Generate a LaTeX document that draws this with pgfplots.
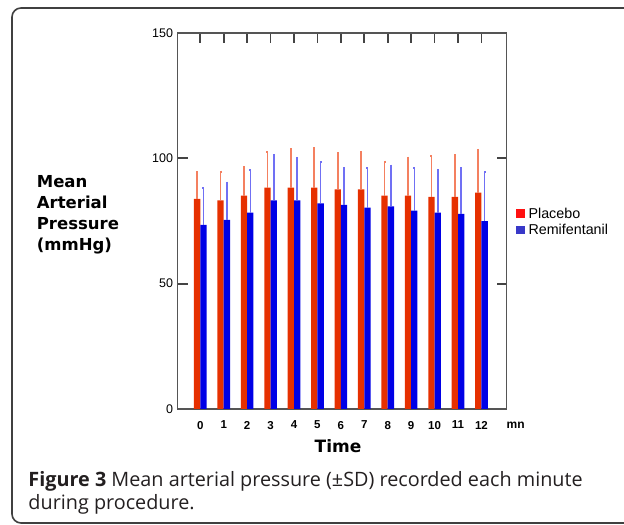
\documentclass[border=0pt]{standalone}
\usepackage{fontspec}
\setmainfont{Liberation Sans}
\newfontfamily\capfont{Open Sans}
\newfontfamily\vfont{DejaVu Sans}
\usepackage{pgfplots}
\pgfplotsset{compat=1.18}
\definecolor{barred}{HTML}{E63000}
\definecolor{barblue}{HTML}{0000E6}
\definecolor{errred}{HTML}{F48060}
\definecolor{errblue}{HTML}{7070F4}
\definecolor{legred}{HTML}{FF1010}
\definecolor{legblue}{HTML}{3838C8}
\definecolor{axisgray}{HTML}{555555}
\definecolor{captext}{HTML}{231F20}

% minute, mean, +SD
\pgfplotstableread{
t   m     sd
0   83.8  10.7
1   83.2  11.5
2   85.1  11.4
3   88.3  14.2
4   88.3  15.4
5   88.3  15.7
6   87.6  14.4
7   87.6  14.9
8   85.1  13.6
9   85.1  15.2
10  84.6  16.2
11  84.6  16.6
12  86.3  17.1
}\placebo
\pgfplotstableread{
t   m     sd
0   73.5  14.5
1   75.4  14.9
2   78.3  17.0
3   83.2  18.2
4   83.2  17.0
5   82.0  16.4
6   81.4  14.6
7   80.3  15.7
8   80.8  16.3
9   79.1  16.9
10  78.3  17.0
11  77.8  18.2
12  74.9  19.5
}\remi

\begin{document}
\begin{tikzpicture}[x=1bp,y=1bp]
\useasboundingbox (0,0) rectangle (624,525);
\begin{scope}
\clip (0,0) rectangle (624,525);
\draw[line width=1.6bp, color=black!75, rounded corners=9bp] (12,2) rectangle (700,517);
\end{scope}
\begin{axis}[
  at={(177.5bp,116bp)}, anchor=south west,
  width=329bp, height=376bp, scale only axis,
  xmin=-0.973, xmax=13.07,
  ymin=0, ymax=150,
  ytick={0,50,100,150},
  xtick=data,
  xtick pos=upper, xticklabel pos=lower,
  ytick pos=both, yticklabel pos=left,
  tick align=inside,
  major tick length=10bp,
  tick style={axisgray!80!black, line width=1.8bp},
  xtick style={yshift=-10bp},
  axis line style={axisgray, line width=1.6bp},
  /pgf/number format/assume math mode=true,
  yticklabel style={font=\fontsize{12.5bp}{14bp}\selectfont, xshift=-1bp},
  xticklabel style={font=\bfseries\fontsize{11.5bp}{13bp}\selectfont, yshift=1.5bp},
  ybar, bar width=0.27,
  xlabel={Time},
  every axis x label/.style={at={(rel axis cs:0.488,0)}, anchor=north, yshift=-30bp, inner sep=0pt,
    font=\vfont\bfseries\fontsize{17bp}{20bp}\selectfont},
  ylabel={Mean\\Arterial\\Pressure\\(mmHg)},
  every axis y label/.style={at={(rel axis cs:-0.428,0.622)}, anchor=north west, inner sep=0pt, align=left,
    font=\vfont\bfseries\fontsize{16.5bp}{21bp}\selectfont},
  legend image code/.code={\fill[#1] (0bp,-4.2bp) rectangle (8.3bp,4.2bp);},
  legend style={at={(rel axis cs:1.029,0.54)}, anchor=north west, draw=none, fill=none,
    inner sep=0pt, row sep=1.5bp, font=\fontsize{14.3bp}{16bp}\selectfont,
    nodes={inner sep=1.5bp}},
  legend cell align=left,
  /tikz/every odd column/.style={column sep=2.5bp},
  clip=false,
]
\addplot[fill=barred, draw=none, bar shift=-0.135, forget plot,
  error bars/.cd, y dir=plus, y explicit,
  error bar style={errred, line width=1.6bp},
  error mark options={errred, line width=2bp, mark size=1bp}]
  table[x=t, y=m, y error=sd] {\placebo};
\addplot[fill=barblue, draw=none, bar shift=0.135, forget plot,
  error bars/.cd, y dir=plus, y explicit,
  error bar style={errblue, line width=1.6bp},
  error mark options={errblue, line width=2bp, mark size=1bp}]
  table[x=t, y=m, y error=sd] {\remi};
\addlegendimage{fill=legred, draw=none}
\addlegendentry{Placebo}
\addlegendimage{fill=legblue, draw=none}
\addlegendentry{Remifentanil}
\node[anchor=base west, inner sep=0pt, font=\bfseries\fontsize{12bp}{14bp}\selectfont]
  at ([yshift=-19.5bp]rel axis cs:1,0) {mn};
\end{axis}
\node[anchor=base west, inner sep=0pt, text=captext, align=left,
  font=\capfont\fontsize{19.8bp}{23.5bp}\selectfont] at (28.3,15)
  {\textbf{Figure 3} Mean arterial pressure (±SD) recorded each minute\\during procedure.};
\end{tikzpicture}
\end{document}
